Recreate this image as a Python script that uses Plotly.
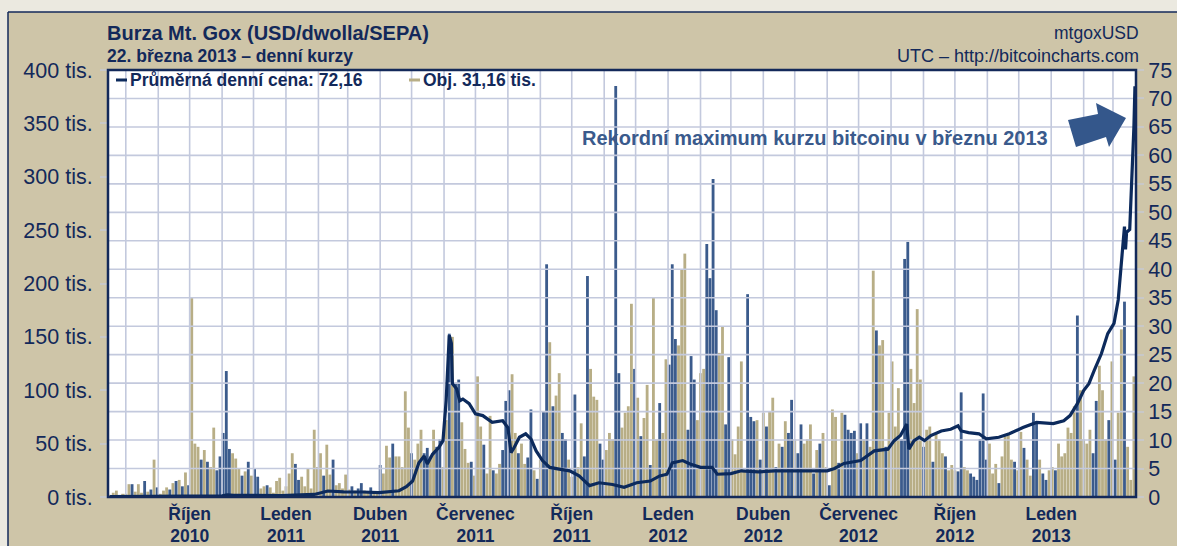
import plotly.graph_objects as go
import pandas as pd

# ---------------- data ----------------
# average daily price (USD)
price_dates = [
    "2010-07-17", "2010-08-10", "2010-09-10", "2010-10-05", "2010-10-20", "2010-11-01",
    "2010-11-06", "2010-11-12", "2010-11-25", "2010-12-10", "2010-12-28", "2011-01-15",
    "2011-01-28", "2011-02-10", "2011-02-25", "2011-03-15", "2011-03-31", "2011-04-19",
    "2011-04-26", "2011-05-02", "2011-05-08", "2011-05-13", "2011-05-16", "2011-05-21",
    "2011-05-27", "2011-05-31", "2011-06-03", "2011-06-06", "2011-06-08", "2011-06-09",
    "2011-06-13", "2011-06-16", "2011-06-19", "2011-06-25", "2011-07-01", "2011-07-08",
    "2011-07-17", "2011-07-27", "2011-08-01", "2011-08-04", "2011-08-07", "2011-08-12",
    "2011-08-18", "2011-08-23", "2011-08-28", "2011-09-03", "2011-09-10", "2011-09-19",
    "2011-09-29", "2011-10-08", "2011-10-18", "2011-10-27", "2011-11-09", "2011-11-20",
    "2011-12-02", "2011-12-15", "2011-12-24", "2011-12-31", "2012-01-05", "2012-01-15",
    "2012-01-22", "2012-02-01", "2012-02-12", "2012-02-17", "2012-03-01", "2012-03-11",
    "2012-03-27", "2012-04-12", "2012-04-28", "2012-05-15", "2012-06-01", "2012-06-08",
    "2012-06-17", "2012-07-03", "2012-07-16", "2012-07-29", "2012-08-04", "2012-08-10",
    "2012-08-16", "2012-08-18", "2012-08-23", "2012-08-28", "2012-09-02", "2012-09-08",
    "2012-09-18", "2012-09-27", "2012-10-04", "2012-10-07", "2012-10-14", "2012-10-24",
    "2012-10-31", "2012-11-12", "2012-11-22", "2012-12-05", "2012-12-18", "2013-01-03",
    "2013-01-13", "2013-01-19", "2013-01-26", "2013-02-01", "2013-02-06", "2013-02-11",
    "2013-02-18", "2013-02-24", "2013-03-02", "2013-03-06", "2013-03-09", "2013-03-11",
    "2013-03-12", "2013-03-13", "2013-03-14", "2013-03-17", "2013-03-19", "2013-03-20",
    "2013-03-21", "2013-03-22",
]
price_values = [
    0.05, 0.07, 0.06, 0.07, 0.10, 0.19,
    0.36, 0.27, 0.28, 0.22, 0.25, 0.38,
    0.45, 1.05, 0.90, 0.88, 0.78, 1.10,
    1.80, 2.80, 6.00, 7.20, 5.80, 7.50,
    8.70, 9.90, 16.9, 28.4, 27.0, 19.9,
    19.0, 16.9, 17.2, 16.4, 14.6, 14.3,
    13.1, 13.4, 12.2, 7.80, 8.70, 10.5,
    11.1, 10.2, 8.10, 6.40, 5.20, 4.90,
    4.60, 3.70, 2.00, 2.50, 2.20, 1.70,
    2.50, 2.80, 3.70, 4.00, 6.00, 6.40,
    5.80, 5.20, 5.20, 4.00, 4.10, 4.60,
    4.40, 4.60, 4.60, 4.60, 4.60, 5.00,
    5.90, 6.40, 8.10, 8.40, 9.90, 10.8,
    12.8, 8.40, 9.90, 10.5, 9.90, 10.8,
    11.6, 11.9, 12.5, 11.6, 11.3, 11.1,
    10.2, 10.5, 11.1, 12.2, 13.1, 12.9,
    13.4, 14.3, 16.4, 18.7, 19.9, 22.2,
    25.2, 28.7, 30.5, 34.6, 40.5, 44.6,
    47.5, 43.5, 46.5, 47.0, 55.0, 60.5,
    65.0, 72.16,
]

# traded volume (thousands of BTC), one bar per 3 days starting 2010-07-17
vol_start = "2010-07-17"
vol_step_days = 3
volume = [
    2, 4, 6, 1, 3, 3, 12, 12, 5, 12,
    4, 15, 5, 7, 35, 9, 3, 6, 9, 7,
    13, 15, 16, 10, 23, 11, 187, 50, 47, 35,
    44, 33, 28, 65, 25, 38, 60, 118, 45, 41,
    36, 27, 20, 24, 33, 20, 27, 19, 8, 10,
    11, 9, 4, 15, 18, 6, 10, 22, 41, 31,
    16, 19, 10, 27, 8, 63, 28, 41, 20, 49,
    21, 35, 11, 13, 8, 21, 7, 10, 6, 8,
    13, 6, 4, 9, 4, 5, 30, 22, 48, 37,
    50, 38, 38, 28, 99, 65, 41, 35, 50, 63,
    41, 46, 38, 63, 47, 54, 28, 72, 153, 150,
    107, 110, 70, 45, 32, 33, 20, 113, 66, 49,
    22, 76, 25, 22, 31, 44, 90, 100, 115, 60,
    41, 50, 31, 37, 82, 25, 17, 35, 80, 218,
    145, 85, 95, 116, 60, 54, 35, 19, 96, 28,
    69, 38, 207, 120, 94, 91, 50, 35, 44, 60,
    54, 385, 116, 65, 79, 85, 181, 120, 93, 57,
    74, 105, 30, 187, 54, 88, 60, 129, 124, 218,
    148, 142, 213, 228, 63, 132, 110, 72, 116, 120,
    237, 205, 298, 175, 135, 160, 68, 131, 54, 40,
    66, 127, 25, 190, 75, 71, 72, 35, 79, 66,
    80, 93, 28, 50, 47, 71, 60, 91, 54, 41,
    68, 50, 54, 68, 22, 44, 50, 60, 28, 11,
    82, 75, 32, 79, 77, 63, 60, 62, 41, 69,
    54, 69, 47, 212, 156, 142, 147, 47, 79, 127,
    66, 102, 54, 223, 239, 120, 88, 176, 110, 47,
    63, 66, 33, 60, 54, 41, 38, 25, 30, 25,
    24, 98, 28, 25, 22, 19, 16, 54, 97, 35,
    50, 22, 31, 13, 38, 57, 58, 35, 33, 25,
    61, 46, 35, 20, 79, 69, 35, 22, 16, 25,
    28, 25, 50, 38, 41, 65, 60, 85, 170, 100,
    54, 50, 63, 41, 90, 123, 100, 54, 72, 127,
    35, 79, 157, 183, 47, 16, 113,
]
# bar group: T = tan volume bars, B = blue volume bars
vol_kind = "".join([
    "TTTTTTTBTT", "TBTBTBTTTB", "TBTBTBTTTB", "TBTTBBBBBT", "TTBTBTBBTT",
    "BTTTTTTTTB", "BTTTTTTTBT", "TBTTTTTBTB", "BTTBTTBTTT", "BTTTTTBTTT",
    "BBTTBBTTBT", "BBTTTBTTTB", "TTBTTBBBTT", "BTTBBTBTBB", "TBTTBBTTBT",
    "TBBTTTBBTT", "TBBTTTTBTB", "TTBTTBTTBB", "BTTTBBBTTT", "BBBBTTBBTT",
    "TTTBBBTBTB", "TTBTBTBBTB", "BTTTBTBTTB", "TTBTBBBBTB", "TBTTBTTBTT",
    "TTBBBTTTTB", "TTBTTTBTTT", "BBTTBBBBBB", "TTTBTTTTBT", "TBTTBBTBBT",
    "TBTTTTTTBT", "TTTBBTTTBT", "BTTBTTT",
])

quarter_ticks = ["2010-10-01", "2011-01-01", "2011-04-01", "2011-07-01", "2011-10-01",
                 "2012-01-01", "2012-04-01", "2012-07-01", "2012-10-01", "2013-01-01"]
quarter_labels = ["Říjen<br>2010", "Leden<br>2011", "Duben<br>2011", "Červenec<br>2011",
                  "Říjen<br>2011", "Leden<br>2012", "Duben<br>2012", "Červenec<br>2012",
                  "Říjen<br>2012", "Leden<br>2013"]
vol_ticks = [0, 50, 100, 150, 200, 250, 300, 350, 400]
price_ticks = list(range(0, 80, 5))

title = "Burza Mt. Gox (USD/dwolla/SEPA)"
subtitle = "22. března 2013 – denní kurzy"
source1 = "mtgoxUSD"
source2 = "UTC – http://bitcoincharts.com"
legend_price = "Průměrná denní cena: 72,16"
legend_vol = "Obj. 31,16 tis."
note = "Rekordní maximum kurzu bitcoinu v březnu 2013"

# ---------------- styling ----------------
NAVY = "#13295a"
LINE_NAVY = "#0c2a5c"
BLUE = "#3b5b8c"
TAN = "#b8ae86"
PANEL = "#cec5a8"
OUTER = "#ebe9e0"
GRID = "#c3c9dd"
FONT = "Liberation Sans"

W, H = 1177, 546
L, R, T, B = 108, 41, 70, 49
PW, PH = W - L - R, H - T - B


def px(xp):
    return (xp - L) / PW


def py(yp):
    return (H - B - yp) / PH


assert len(volume) == len(vol_kind)
vol_dates = pd.date_range(vol_start, periods=len(volume), freq=f"{vol_step_days}D")
tan_y = [v if k == "T" else None for v, k in zip(volume, vol_kind)]
blue_y = [v if k == "B" else None for v, k in zip(volume, vol_kind)]
bar_w = vol_step_days * 0.9 * 86400000

x_range = ["2010-07-15", "2013-03-23"]

fig = go.Figure()
fig.add_trace(go.Bar(x=vol_dates, y=tan_y, marker=dict(color=TAN, line=dict(width=0)),
                     width=bar_w, yaxis="y", hoverinfo="skip", showlegend=False))
fig.add_trace(go.Bar(x=vol_dates, y=blue_y, marker=dict(color=BLUE, line=dict(width=0)),
                     width=bar_w, yaxis="y", hoverinfo="skip", showlegend=False))

# grid drawn over the bars (as in the original)
gx, gy = [], []
for m in pd.date_range("2010-08-01", "2013-03-01", freq="MS"):
    gx += [m, m, None]
    gy += [0, 75, None]
for v in price_ticks[1:-1]:
    gx += [pd.Timestamp(x_range[0]), pd.Timestamp(x_range[1]), None]
    gy += [v, v, None]
fig.add_trace(go.Scatter(x=gx, y=gy, mode="lines", line=dict(color=GRID, width=1.6),
                         yaxis="y2", hoverinfo="skip", showlegend=False))

fig.add_trace(go.Scatter(x=pd.to_datetime(price_dates), y=price_values, mode="lines",
                         line=dict(color=LINE_NAVY, width=3.2), yaxis="y2",
                         hoverinfo="skip", showlegend=False))

shapes = [
    # outer light strips + panel border
    dict(type="rect", xref="paper", yref="paper", x0=px(-5), x1=px(8), y0=py(560), y1=py(-5),
         fillcolor=OUTER, line=dict(width=0), layer="below"),
    dict(type="rect", xref="paper", yref="paper", x0=px(-5), x1=px(1190), y0=py(12), y1=py(-5),
         fillcolor=OUTER, line=dict(width=0), layer="below"),
    dict(type="line", xref="paper", yref="paper", x0=px(8), x1=px(8), y0=py(12), y1=py(560),
         line=dict(color=NAVY, width=1.5)),
    dict(type="line", xref="paper", yref="paper", x0=px(8), x1=px(1190), y0=py(12), y1=py(12),
         line=dict(color=NAVY, width=1.5)),
    # plot frame
    dict(type="rect", xref="paper", yref="paper", x0=0, x1=1, y0=0, y1=1,
         line=dict(color=NAVY, width=2.5), layer="above"),
    # legend keys
    dict(type="line", xref="paper", yref="paper", x0=px(116), x1=px(127), y0=py(80), y1=py(80),
         line=dict(color=LINE_NAVY, width=3)),
    dict(type="line", xref="paper", yref="paper", x0=px(409), x1=px(420), y0=py(80), y1=py(80),
         line=dict(color=TAN, width=3)),
]
arrow_pts = [(1068, 120), (1098, 114), (1096, 103), (1126, 118), (1109, 147), (1106, 137), (1076, 147)]
path = "M " + " L ".join(f"{px(a):.5f},{py(b):.5f}" for a, b in arrow_pts) + " Z"
shapes.append(dict(type="path", xref="paper", yref="paper", path=path,
                   fillcolor="#34578b", line=dict(width=0), layer="above"))

annotations = [
    dict(text=f"<b>{title}</b>", x=px(105), y=py(33), xref="paper", yref="paper", xanchor="left",
         yanchor="middle", showarrow=False, font=dict(size=20, color=NAVY, family=FONT)),
    dict(text=f"<b>{subtitle}</b>", x=px(105), y=py(56), xref="paper", yref="paper", xanchor="left",
         yanchor="middle", showarrow=False, font=dict(size=17.5, color=NAVY, family=FONT)),
    dict(text=source1, x=px(1141), y=py(33), xref="paper", yref="paper", xanchor="right",
         yanchor="middle", showarrow=False, font=dict(size=17.5, color=NAVY, family=FONT)),
    dict(text=source2, x=px(1141), y=py(56), xref="paper", yref="paper", xanchor="right",
         yanchor="middle", showarrow=False, font=dict(size=18, color=NAVY, family=FONT)),
    dict(text=f"<b>{legend_price}</b>", x=px(128), y=py(80), xref="paper", yref="paper",
         xanchor="left", yanchor="middle", showarrow=False,
         font=dict(size=17.5, color=NAVY, family=FONT)),
    dict(text=f"<b>{legend_vol}</b>", x=px(421), y=py(80), xref="paper", yref="paper",
         xanchor="left", yanchor="middle", showarrow=False,
         font=dict(size=17.5, color=NAVY, family=FONT)),
    dict(text=f"<b>{note}</b>", x=px(815), y=py(138), xref="paper", yref="paper",
         xanchor="center", yanchor="middle", showarrow=False,
         font=dict(size=20, color="#3a5a8c", family=FONT)),
]

fig.update_layout(
    width=W, height=H, autosize=False,
    margin=dict(l=L, r=R, t=T, b=B, pad=0, autoexpand=False),
    paper_bgcolor=PANEL, plot_bgcolor="white",
    barmode="overlay", showlegend=False,
    font=dict(family=FONT, color=NAVY),
    xaxis=dict(type="date", range=x_range, tickvals=quarter_ticks, ticktext=quarter_labels,
               tickfont=dict(size=17.5, color=NAVY, family=FONT, weight="bold"),
               showgrid=False, zeroline=False, showline=False, ticks="",
               ticklabelstandoff=4, automargin=False),
    yaxis=dict(range=[0, 400], tickvals=vol_ticks, ticktext=[f"{v} tis." for v in vol_ticks],
               tickfont=dict(size=21.5, color=NAVY, family=FONT), showgrid=False,
               zeroline=False, ticks="outside", ticklen=7, tickcolor="#c8c8c8", tickwidth=1.5,
               ticklabelstandoff=3, automargin=False),
    yaxis2=dict(range=[0, 75], tickvals=price_ticks, overlaying="y", side="right",
                tickfont=dict(size=21.5, color=NAVY, family=FONT), showgrid=False,
                zeroline=False, ticks="outside", ticklen=7, tickcolor="#c8c8c8", tickwidth=1.5,
                automargin=False),
    shapes=shapes,
    annotations=annotations,
)

fig.write_html("out.html", config={"displayModeBar": False},
               post_script="document.body.style.margin='0';")
